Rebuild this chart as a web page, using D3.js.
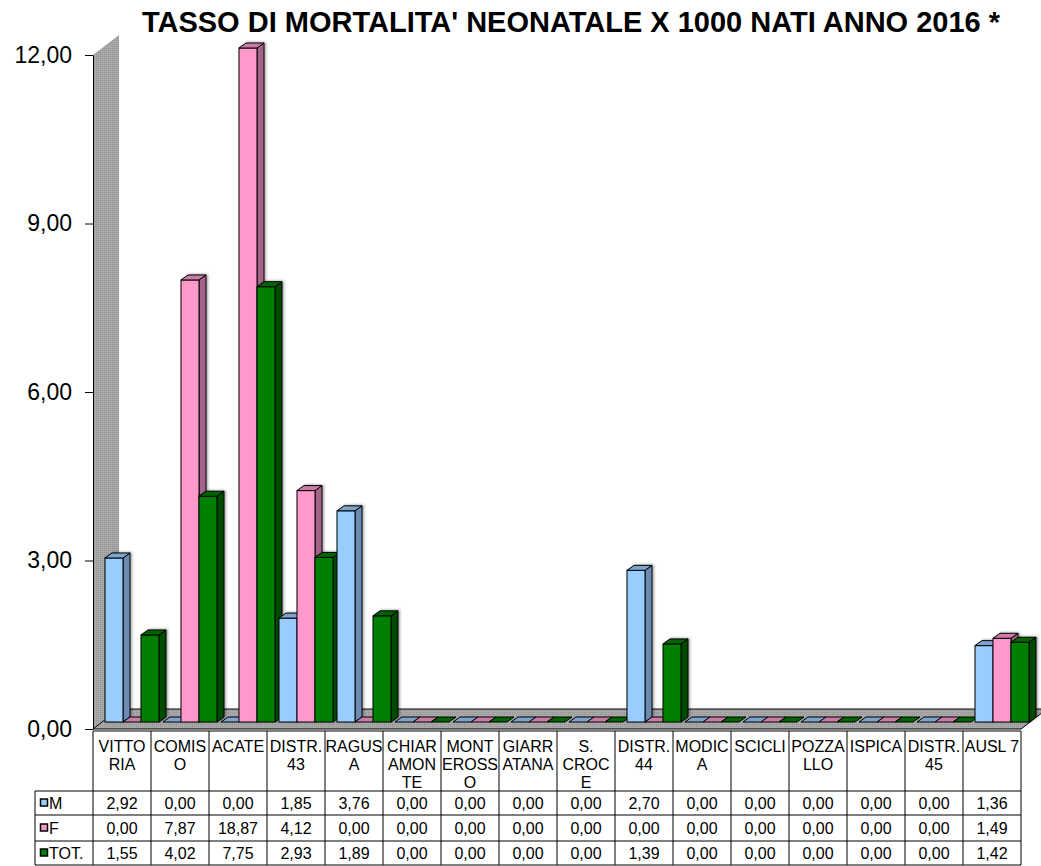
<!DOCTYPE html>
<html>
<head>
<meta charset="utf-8">
<script src="https://cdn.jsdelivr.net/npm/d3@7"></script>
<style>
  body { margin: 0; background: #fff; }
  svg { display: block; }
  text { font-family: "Liberation Sans", Arial, sans-serif; fill: #000; }
</style>
</head>
<body>
<svg id="chart" width="1041" height="866"></svg>
<script>
// ---- data ----
const chartTitle = "TASSO DI MORTALITA' NEONATALE X 1000 NATI ANNO 2016 *";
const categories = ["VITTORIA", "COMISO", "ACATE", "DISTR. 43", "RAGUSA", "CHIARAMONTE",
  "MONTEROSSO", "GIARRATANA", "S. CROCE", "DISTR. 44", "MODICA", "SCICLI",
  "POZZALLO", "ISPICA", "DISTR. 45", "AUSL 7"];
// header cell text, already split into lines as in the table
const categoryLines = [["VITTO", "RIA"], ["COMIS", "O"], ["ACATE"], ["DISTR.", "43"],
  ["RAGUS", "A"], ["CHIAR", "AMON", "TE"], ["MONT", "EROSS", "O"], ["GIARR", "ATANA"],
  ["S.", "CROC", "E"], ["DISTR.", "44"], ["MODIC", "A"], ["SCICLI"], ["POZZA", "LLO"],
  ["ISPICA"], ["DISTR.", "45"], ["AUSL 7"]];
const seriesNames = ["M", "F", "TOT."];
const valuesM   = [2.92, 0.00, 0.00, 1.85, 3.76, 0.00, 0.00, 0.00, 0.00, 2.70, 0.00, 0.00, 0.00, 0.00, 0.00, 1.36];
const valuesF   = [0.00, 7.87, 18.87, 4.12, 0.00, 0.00, 0.00, 0.00, 0.00, 0.00, 0.00, 0.00, 0.00, 0.00, 0.00, 1.49];
const valuesTOT = [1.55, 4.02, 7.75, 2.93, 1.89, 0.00, 0.00, 0.00, 0.00, 1.39, 0.00, 0.00, 0.00, 0.00, 0.00, 1.42];
const yTickValues = [0, 3, 6, 9, 12];

const seriesValues = [valuesM, valuesF, valuesTOT];
const seriesColors = [
  { front: "#99CCFF", side: "#6A8CB3", top: "#7EA3CF" },
  { front: "#FF99CC", side: "#A6638A", top: "#CC7AA6" },
  { front: "#008000", side: "#004C00", top: "#006400" }
];

// ---- layout ----
const svg = d3.select("#chart");
const plotLeft = 93, plotRight = 1021;
const yMin = 0, yMax = 12;
const depthX = 26, depthY = -20;       // floor / wall depth
const barShiftY = -7;                  // bars stand slightly behind the front edge
const barDX = 7, barDY = -5;           // bar thickness

const x = d3.scaleBand().domain(categories).range([plotLeft, plotRight]).padding(0);
const xs = d3.scaleBand().domain(seriesNames).range([12, 66]).padding(0);
const y = d3.scaleLinear().domain([yMin, yMax]).range([729, 55]);

const fmt = v => d3.format(".2f")(v).replace(".", ",");

// textured gray for walls and floor
const defs = svg.append("defs");
const pat = defs.append("pattern").attr("id", "grain")
  .attr("width", 2).attr("height", 2).attr("patternUnits", "userSpaceOnUse");
pat.append("rect").attr("width", 2).attr("height", 2).attr("fill", "#a4a4a4");
pat.append("rect").attr("width", 1).attr("height", 1).attr("fill", "#979797");
pat.append("rect").attr("x", 1).attr("y", 1).attr("width", 1).attr("height", 1).attr("fill", "#afafaf");

const shadow = defs.append("filter").attr("id", "shadow")
  .attr("x", "-30%").attr("y", "-5%").attr("width", "160%").attr("height", "110%");
shadow.append("feDropShadow").attr("dx", 1.5).attr("dy", -0.5)
  .attr("stdDeviation", 1).attr("flood-color", "#000").attr("flood-opacity", 0.35);

// title
svg.append("text")
  .attr("x", 571).attr("y", 32)
  .attr("text-anchor", "middle")
  .style("font-size", "29px").style("font-weight", "bold")
  .text(chartTitle);

// left wall
const y0 = y(0), yTop = y(yMax);
svg.append("polygon")
  .attr("points", [[plotLeft, yTop], [plotLeft + depthX, yTop + depthY],
    [plotLeft + depthX, y0 + depthY], [plotLeft, y0]].join(" "))
  .attr("fill", "url(#grain)");

// floor
svg.append("polygon")
  .attr("points", [[plotLeft, y0], [plotRight, y0], [plotRight + depthX, y0 + depthY],
    [plotLeft + depthX, y0 + depthY]].join(" "))
  .attr("fill", "url(#grain)").attr("stroke", "#000").attr("stroke-width", 1);

// bars
const bars = svg.append("g");
categories.forEach((cat, i) => {
  seriesNames.forEach((s, k) => {
    const v = Math.min(seriesValues[k][i], yMax);
    const c = seriesColors[k];
    const bx = x(cat) + xs(s), bw = xs.bandwidth();
    const base = y(0) + barShiftY;
    const top = y(v) + barShiftY;
    const g = bars.append("g");
    if (v > 0) {
      g.attr("filter", "url(#shadow)");
      g.append("polygon")
        .attr("points", [[bx + bw, top], [bx + bw + barDX, top + barDY],
          [bx + bw + barDX, base + barDY], [bx + bw, base]].join(" "))
        .attr("fill", c.side).attr("stroke", "#000").attr("stroke-width", 1);
      g.append("rect")
        .attr("x", bx).attr("y", top).attr("width", bw).attr("height", base - top)
        .attr("fill", c.front).attr("stroke", "#000").attr("stroke-width", 1);
    }
    g.append("polygon")
      .attr("points", [[bx, top], [bx + bw, top], [bx + bw + barDX, top + barDY],
        [bx + barDX, top + barDY]].join(" "))
      .attr("fill", c.top).attr("stroke", "#000").attr("stroke-width", 1);
  });
});

// y axis
const axis = svg.append("g")
  .attr("transform", `translate(${plotLeft},0)`)
  .call(d3.axisLeft(y).tickValues(yTickValues).tickFormat(fmt)
    .tickSize(8).tickSizeOuter(0).tickPadding(13));
axis.selectAll("path, line").attr("stroke", "#000");
axis.selectAll("text")
  .style("font-size", "23px")
  .style("font-family", "'Liberation Sans', Arial, sans-serif")
  .attr("fill", "#000");

// data table
const tableTop = 731, headerBottom = 791;
const rowEdges = [791, 815, 841, 865];
const legendLeft = 35;
const table = svg.append("g").attr("stroke", "#000").attr("stroke-width", 1);

table.append("line").attr("x1", plotLeft).attr("x2", plotRight)
  .attr("y1", tableTop).attr("y2", tableTop);
rowEdges.forEach(ry => table.append("line")
  .attr("x1", legendLeft).attr("x2", plotRight).attr("y1", ry).attr("y2", ry));
categories.forEach(cat => table.append("line")
  .attr("x1", x(cat)).attr("x2", x(cat)).attr("y1", tableTop).attr("y2", rowEdges[3]));
table.append("line").attr("x1", plotRight).attr("x2", plotRight)
  .attr("y1", tableTop).attr("y2", rowEdges[3]);
table.append("line").attr("x1", legendLeft).attr("x2", legendLeft)
  .attr("y1", rowEdges[0]).attr("y2", rowEdges[3]);

const cells = svg.append("g").style("font-size", "16px");
categories.forEach((cat, i) => {
  const cx = x(cat) + x.bandwidth() / 2;
  const t = cells.append("text").attr("text-anchor", "middle");
  categoryLines[i].forEach((line, j) => {
    t.append("tspan").attr("x", cx).attr("y", 752 + j * 18).text(line);
  });
  seriesNames.forEach((s, k) => {
    const cy = (rowEdges[k] + rowEdges[k + 1]) / 2;
    cells.append("text").attr("x", cx).attr("y", cy + 6)
      .attr("text-anchor", "middle").text(fmt(seriesValues[k][i]));
  });
});

// legend keys in the table's first column
seriesNames.forEach((s, k) => {
  const cy = (rowEdges[k] + rowEdges[k + 1]) / 2;
  svg.append("rect").attr("x", 40.5).attr("y", cy - 4).attr("width", 7).attr("height", 7)
    .attr("fill", seriesColors[k].front).attr("stroke", "#000").attr("stroke-width", 1.5);
  cells.append("text").attr("x", 49).attr("y", cy + 6).text(s);
});
</script>
</body>
</html>
